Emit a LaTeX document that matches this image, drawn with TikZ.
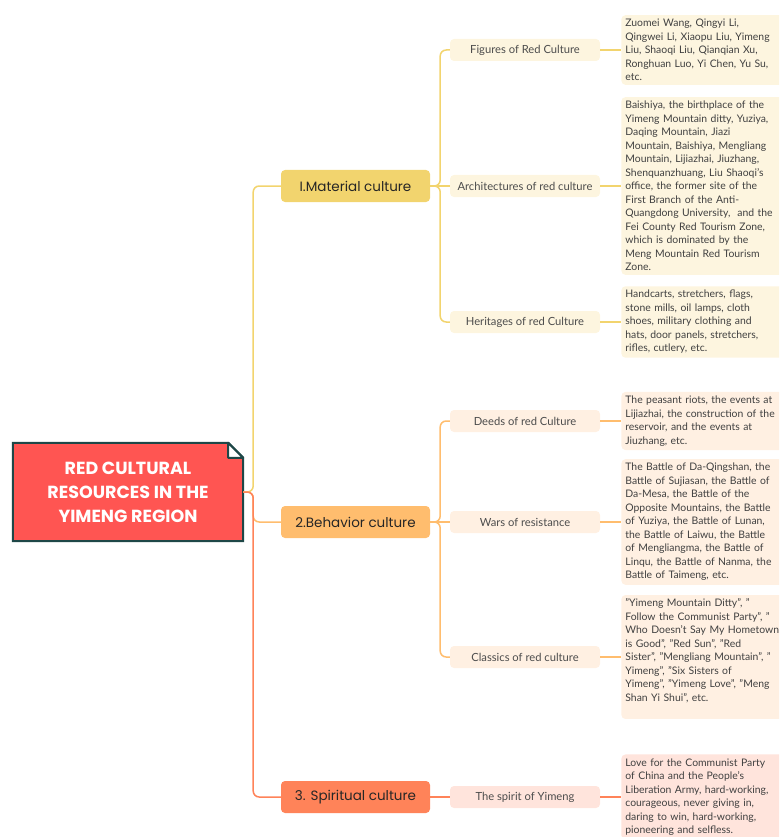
\documentclass[tikz,border=0pt]{standalone}
\usepackage{fontspec}
\setmainfont{Lato}
\newfontfamily\titlefont{Poppins}
\usetikzlibrary{positioning}
\definecolor{matline}{HTML}{F2D46E}
\definecolor{matfill}{HTML}{FDF5DF}
\definecolor{behline}{HTML}{FFBD6E}
\definecolor{behfill}{HTML}{FFF0E2}
\definecolor{spiline}{HTML}{FF8359}
\definecolor{spifill}{HTML}{FFE4DC}
\definecolor{rootfill}{HTML}{FF5552}
\definecolor{rootedge}{HTML}{1E4747}
\begin{document}
\begin{tikzpicture}[x=1pt,y=-1pt,
        root/.style = {minimum width=230pt, minimum height=98pt, align=center, text=white, font=\titlefont\bfseries\fontsize{17.5}{24}\selectfont},
        topic/.style = {rounded corners=4pt, minimum width=149pt, minimum height=32pt, text=black!85, font=\titlefont\fontsize{13.5}{16}\selectfont},
        sub/.style = {rounded corners=4pt, minimum width=150pt, minimum height=22pt, text=black!70, font=\fontsize{11.2}{13}\selectfont},
        leaf/.style = {rounded corners=4pt, text width=172pt, align=left, inner sep=4pt, text=black!75, font=\fontsize{10.4}{13.5}\selectfont},
        link/.style = {line width=1.5pt, rounded corners=6pt}]
    \useasboundingbox (0,0) rectangle (779,837);
    \clip (0,0) rectangle (779,837);

    \node[root] (root) at (128,492) {RED CULTURAL\\RESOURCES IN THE\\YIMENG REGION};
    \filldraw[fill=rootfill, draw=rootedge, line width=2pt] (root.north west) -- ([xshift=-15pt]root.north east) -- ([yshift=-15pt]root.north east) -- (root.south east) -- (root.south west) -- cycle;
    \filldraw[fill=white, draw=rootedge, line width=2pt, line join=round] ([xshift=-15pt]root.north east) -- ([xshift=-15pt,yshift=-15pt]root.north east) -- ([yshift=-15pt]root.north east) -- cycle;
    \node[root] at (root.center) {RED CULTURAL\\RESOURCES IN THE\\YIMENG REGION};

    \node[topic, fill=matline] (mat) at (355.5,186) {I.Material culture};
    \node[topic, fill=behline] (beh) at (355.5,522) {2.Behavior culture};
    \node[topic, fill=spiline] (spi) at (355.5,797) {3. Spiritual culture};

    \node[sub, fill=matfill] (fig) at (525,50) {Figures of Red Culture};
    \node[sub, fill=matfill] (arch) at (525,186) {Architectures of red culture};
    \node[sub, fill=matfill] (her) at (525,322) {Heritages of red Culture};
    \node[sub, fill=behfill] (deed) at (525,421) {Deeds of red Culture};
    \node[sub, fill=behfill] (war) at (525,522) {Wars of resistance};
    \node[sub, fill=behfill] (cls) at (525,657) {Classics of red culture};
    \node[sub, fill=spifill] (spir) at (525,797) {The spirit of Yimeng};

    \node[leaf, fill=matfill, right=21pt of fig] (figL) {Zuomei Wang, Qingyi Li,\\Qingwei Li, Xiaopu Liu, Yimeng\\Liu, Shaoqi Liu, Qianqian Xu,\\Ronghuan Luo, Yi Chen, Yu Su,\\etc.};
    \node[leaf, fill=matfill, right=21pt of arch] (archL) {Baishiya, the birthplace of the\\Yimeng Mountain ditty, Yuziya,\\Daqing Mountain, Jiazi\\Mountain, Baishiya, Mengliang\\Mountain, Lijiazhai, Jiuzhang,\\Shenquanzhuang, Liu Shaoqi's\\office, the former site of the\\First Branch of the Anti-\\Quangdong University,~ and the\\Fei County Red Tourism Zone,\\which is dominated by the\\Meng Mountain Red Tourism\\Zone.};
    \node[leaf, fill=matfill, right=21pt of her] (herL) {Handcarts, stretchers, flags,\\stone mills, oil lamps, cloth\\shoes, military clothing and\\hats, door panels, stretchers,\\rifles, cutlery, etc.};
    \node[leaf, fill=behfill, right=21pt of deed] (deedL) {The peasant riots, the events at\\Lijiazhai, the construction of the\\reservoir, and the events at\\Jiuzhang, etc.};
    \node[leaf, fill=behfill, right=21pt of war] (warL) {The Battle of Da-Qingshan, the\\Battle of Sujiasan, the Battle of\\Da-Mesa, the Battle of the\\Opposite Mountains, the Battle\\of Yuziya, the Battle of Lunan,\\the Battle of Laiwu, the Battle\\of Mengliangma, the Battle of\\Linqu, the Battle of Nanma, the\\Battle of Taimeng, etc.};
    \node[leaf, fill=behfill, right=21pt of cls] (clsL) {"Yimeng Mountain Ditty", "\\Follow the Communist Party", "\\Who Doesn't Say My Hometown\\is Good", "Red Sun", "Red\\Sister", "Mengliang Mountain", "\\Yimeng", "Six Sisters of\\Yimeng", "Yimeng Love", "Meng\\Shan Yi Shui", etc.\\~};
    \node[leaf, fill=spifill, right=21pt of spir] (spirL) {Love for the Communist Party\\of China and the People's\\Liberation Army, hard-working,\\courageous, never giving in,\\daring to win, hard-working,\\pioneering and selfless.};

    \draw[link, matline] (root.east) -- ++(10,0) |- (mat);
    \draw[link, behline] (root.east) -- ++(10,0) |- (beh);
    \draw[link, spiline] (root.east) -- ++(10,0) |- (spi);

    \draw[link, matline] (mat.east) -- ++(10,0) |- (fig);
    \draw[link, matline] (mat.east) -- ++(10,0) |- (her);
    \draw[link, matline] (mat) -- (arch);
    \draw[link, behline] (beh.east) -- ++(10,0) |- (deed);
    \draw[link, behline] (beh.east) -- ++(10,0) |- (cls);
    \draw[link, behline] (beh) -- (war);
    \draw[link, spiline] (spi) -- (spir);

    \draw[link, matline] (fig) -- (figL);
    \draw[link, matline] (arch) -- (archL);
    \draw[link, matline] (her) -- (herL);
    \draw[link, behline] (deed) -- (deedL);
    \draw[link, behline] (war) -- (warL);
    \draw[link, behline] (cls) -- (clsL);
    \draw[link, spiline] (spir) -- (spirL);

\end{tikzpicture}
\end{document}
